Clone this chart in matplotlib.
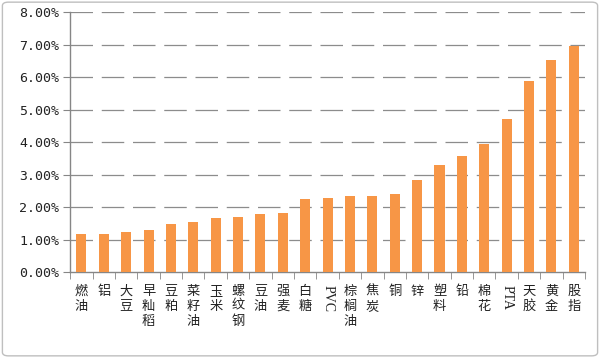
import matplotlib
matplotlib.use("Agg")
import matplotlib.pyplot as plt
from matplotlib.patches import FancyBboxPatch
from matplotlib.ticker import FuncFormatter, FixedLocator

plt.rcParams['font.family'] = ['Noto Sans CJK SC', 'DejaVu Sans']

categories = ['燃油', '铝', '大豆', '早籼稻', '豆粕', '菜籽油', '玉米', '螺纹钢', '豆油', '强麦',
              '白糖', 'PVC', '棕榈油', '焦炭', '铜', '锌', '塑料', '铅', '棉花', 'PTA',
              '天胶', '黄金', '股指']
values = [1.16, 1.16, 1.24, 1.31, 1.48, 1.55, 1.67, 1.71, 1.78, 1.83,
          2.25, 2.29, 2.33, 2.33, 2.40, 2.83, 3.30, 3.58, 3.94, 4.71,
          5.89, 6.52, 6.96]
y_ticks = [0, 1, 2, 3, 4, 5, 6, 7, 8]

fig = plt.figure(figsize=(6.0, 3.58), dpi=100)
ax = fig.add_axes([0.117, 0.240, 0.858, 0.726])

x = list(range(len(categories)))
ax.bar(x, values, width=0.45, color='#F79646', zorder=3)

ax.set_xlim(-0.5, len(categories) - 0.5)
ax.set_ylim(0, 8)
ax.set_yticks(y_ticks)
ax.yaxis.set_major_formatter(FuncFormatter(lambda v, p: f"{v:.2f}%"))

for yv in y_ticks[1:]:
    ax.axhline(yv, color='#8C8C8C', linewidth=0.9, dashes=(18, 7), zorder=1)

for s in ['top', 'right']:
    ax.spines[s].set_visible(False)
for s in ['left', 'bottom']:
    ax.spines[s].set_color('#868686')
    ax.spines[s].set_linewidth(1.0)

ax.tick_params(axis='y', length=5, color='#868686', labelsize=9.5, labelcolor='#222222', pad=3)
for lab in ax.get_yticklabels():
    lab.set_fontfamily(['DejaVu Sans Mono', 'DejaVu Sans'])

ax.set_xticks(x)
labels = []
for c in categories:
    if c.isascii():
        labels.append(c)
    else:
        labels.append('\n'.join(c))
ax.set_xticklabels(labels, fontsize=9.5, linespacing=1.2, va='top', color='#222222')
for lab, c in zip(ax.get_xticklabels(), categories):
    if c.isascii():
        lab.set_rotation(-90)
        lab.set_fontfamily(['Liberation Serif'])
        lab.set_fontsize(10)
ax.tick_params(axis='x', which='major', length=0, pad=9)
ax.xaxis.set_minor_locator(FixedLocator([i - 0.5 for i in range(len(categories) + 1)]))
ax.tick_params(axis='x', which='minor', length=5, color='#868686')

border = FancyBboxPatch((0.004, 0.006), 0.992, 0.988, boxstyle="round,pad=0,rounding_size=0.01",
                        transform=fig.transFigure, fill=False, edgecolor='#BFBFBF', linewidth=1.0)
fig.patches.append(border)

fig.savefig('out.png', dpi=100)
